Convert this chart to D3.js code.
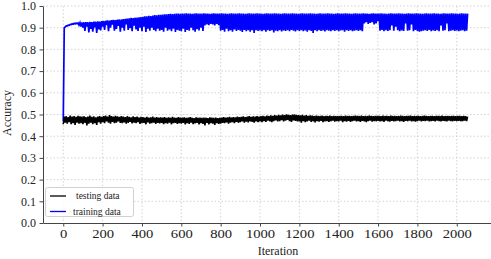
<!DOCTYPE html>
<html><head><meta charset="utf-8">
<script src="https://cdn.jsdelivr.net/npm/d3@7"></script>
<style>body{margin:0;background:#fff}svg{display:block}</style>
</head><body>
<svg id="c" width="491" height="259"></svg>
<script>
// each bucket covers 10 iterations: the noisy curve visits the bucket's low then its high
const bucketSize = 10;
const xTicks = [0,200,400,600,800,1000,1200,1400,1600,1800,2000];
const yTicks = [0.0,0.1,0.2,0.3,0.4,0.5,0.6,0.7,0.8,0.9,1.0];
const seriesNames = ["testing data","training data"];
const seriesColors = ["#000000","#0000ff"];

const trainLow = [
.47,.903,.908,.911,.914,.916,.917,.918,.912,.905,
.9,.885,.905,.878,.895,.882,.91,.876,.892,.888,
.905,.89,.912,.884,.9,.915,.886,.895,.908,.882,
.9,.886,.915,.89,.898,.884,.91,.892,.885,.9,
.884,.905,.88,.895,.886,.9,.89,.884,.895,.886,
.89,.882,.9,.886,.892,.884,.895,.88,.89,.886,
.884,.895,.88,.89,.886,.9,.888,.882,.893,.887,
.9,.885,.91,.915,.912,.918,.915,.91,.918,.912,
.886,.89,.882,.895,.884,.888,.882,.892,.885,.89,
.886,.88,.89,.884,.888,.882,.889,.876,.888,.885,
.887,.884,.889,.882,.888,.885,.889,.878,.886,.884,
.889,.883,.887,.885,.889,.884,.89,.886,.883,.888,
.885,.889,.884,.887,.882,.889,.885,.876,.888,.884,
.889,.885,.887,.883,.889,.886,.884,.888,.885,.889,
.884,.887,.889,.882,.888,.885,.889,.884,.886,.888,
.885,.889,.884,.92,.925,.918,.922,.926,.915,.92,
.93,.886,.89,.884,.888,.885,.889,.91,.886,.905,
.888,.884,.887,.885,.92,.886,.889,.915,.884,.89,
.885,.882,.884,.886,.888,.885,.89,.884,.887,.885,
.889,.884,.91,.886,.888,.92,.884,.886,.888,.885,
.887,.884,.886,.889,.884,.886
];
const trainHigh = [
.90,.908,.912,.915,.918,.92,.921,.922,.923,.924,
.925,.926,.925,.927,.926,.928,.927,.929,.928,.93,
.931,.932,.934,.933,.935,.936,.935,.937,.938,.938,
.94,.941,.942,.943,.945,.944,.946,.947,.948,.949,
.95,.952,.953,.955,.954,.956,.958,.957,.959,.96,
.961,.962,.962,.963,.964,.963,.964,.965,.965,.964,
.965,.965,.966,.965,.965,.964,.965,.966,.965,.965,
.965,.966,.965,.965,.964,.965,.966,.965,.965,.965,
.966,.965,.965,.964,.965,.966,.965,.965,.965,.966,
.965,.965,.964,.965,.966,.965,.965,.965,.966,.965,
.965,.964,.965,.966,.965,.965,.965,.966,.965,.965,
.964,.965,.966,.965,.965,.965,.966,.965,.965,.964,
.965,.966,.965,.965,.965,.966,.965,.965,.964,.965,
.966,.965,.965,.965,.966,.965,.965,.964,.965,.966,
.965,.965,.965,.966,.965,.965,.964,.965,.966,.965,
.965,.965,.966,.965,.965,.964,.965,.966,.965,.965,
.965,.966,.965,.965,.964,.965,.966,.965,.965,.965,
.966,.965,.965,.964,.965,.966,.965,.965,.965,.966,
.965,.965,.964,.965,.966,.965,.965,.965,.966,.965,
.965,.964,.965,.966,.965,.965,.965,.966,.965,.965,
.964,.965,.966,.965,.965,.965
];
const testLow = [
.455,.462,.458,.465,.455,.46,.452,.463,.458,.46,
.455,.462,.45,.458,.463,.455,.46,.452,.465,.458,
.465,.46,.468,.462,.458,.466,.46,.463,.468,.461,
.46,.464,.458,.462,.466,.459,.463,.46,.465,.457,
.46,.462,.455,.464,.458,.46,.463,.457,.461,.459,
.462,.456,.46,.458,.463,.455,.46,.462,.457,.46,
.458,.462,.455,.46,.457,.463,.456,.459,.461,.455,
.46,.457,.45,.462,.455,.46,.458,.452,.46,.457,
.458,.462,.46,.464,.458,.463,.465,.46,.466,.462,
.465,.468,.463,.467,.464,.469,.466,.463,.468,.465,
.468,.465,.47,.466,.472,.468,.465,.47,.473,.468,
.47,.474,.468,.472,.475,.47,.466,.473,.471,.468,
.468,.462,.47,.465,.468,.472,.466,.469,.464,.47,
.467,.471,.465,.468,.47,.466,.469,.472,.467,.47,
.468,.472,.465,.47,.467,.471,.466,.47,.472,.468,
.47,.466,.471,.468,.465,.47,.472,.467,.47,.469,
.471,.468,.47,.466,.472,.469,.467,.471,.468,.47,
.472,.468,.47,.466,.471,.469,.472,.468,.47,.467,
.47,.472,.468,.471,.469,.472,.468,.47,.471,.469,
.472,.47,.468,.471,.47,.468,.472,.47,.469,.471,
.47,.471,.469,.47,.472,.47
];
const testHigh = [
.49,.492,.488,.495,.49,.493,.489,.494,.491,.49,
.492,.488,.49,.495,.489,.491,.487,.49,.493,.489,
.492,.495,.49,.497,.493,.49,.494,.491,.489,.492,
.49,.488,.492,.489,.487,.491,.488,.49,.486,.489,
.488,.486,.489,.485,.487,.49,.486,.488,.485,.487,
.486,.488,.484,.487,.485,.489,.486,.484,.488,.486,
.485,.487,.484,.486,.488,.485,.483,.487,.485,.486,
.484,.486,.485,.483,.487,.485,.484,.486,.483,.485,
.486,.488,.485,.487,.489,.486,.488,.487,.49,.488,
.489,.491,.488,.49,.492,.489,.491,.49,.493,.49,
.492,.494,.491,.495,.493,.496,.494,.497,.495,.498,
.496,.499,.497,.5,.498,.497,.499,.5,.498,.497,
.496,.498,.495,.497,.494,.496,.495,.493,.495,.494,
.493,.495,.492,.494,.493,.495,.492,.494,.493,.492,
.493,.494,.492,.495,.493,.494,.492,.493,.495,.494,
.493,.495,.492,.494,.493,.495,.494,.492,.494,.493,
.494,.492,.495,.493,.494,.492,.495,.493,.494,.492,
.493,.495,.494,.492,.494,.493,.495,.492,.494,.493,
.494,.492,.493,.495,.494,.492,.493,.494,.492,.493,
.494,.493,.495,.492,.493,.494,.492,.493,.494,.492,
.493,.494,.492,.493,.492,.49
];

const svg = d3.select("#c");
const font = "'Liberation Serif','Times New Roman',serif";
const pLeft = 43, pBottom = 223, pTop = 6, pRight = 491;
const x = d3.scaleLinear().domain([-103, 2174]).range([pLeft, pRight]);
const y = d3.scaleLinear().domain([0, 1]).range([pBottom, pTop]);

// grid
const grid = svg.append("g").attr("stroke","#c8c8c8").attr("stroke-width",0.8).attr("stroke-dasharray","1.5,2");
grid.selectAll("line.v").data(xTicks).join("line").attr("class","v")
  .attr("x1",d=>x(d)).attr("x2",d=>x(d)).attr("y1",pTop).attr("y2",pBottom);
grid.selectAll("line.h").data(yTicks.slice(1)).join("line").attr("class","h")
  .attr("x1",pLeft).attr("x2",pRight).attr("y1",d=>y(d)).attr("y2",d=>y(d));

// series: visit each bucket's low then high
function pts(low, high){
  const out = [];
  low.forEach((v,i)=>{
    out.push([i*bucketSize, v]);
    out.push([i*bucketSize + bucketSize/2, high[i]]);
  });
  return out;
}
const line = d3.line().x(d=>x(d[0])).y(d=>y(d[1]));
svg.append("path").datum(pts(trainLow, trainHigh)).attr("fill","none")
  .attr("stroke",seriesColors[1]).attr("stroke-width",1.7).attr("d",line);
svg.append("path").datum(pts(testLow, testHigh)).attr("fill","none")
  .attr("stroke",seriesColors[0]).attr("stroke-width",1.6).attr("d",line);

// axes
const xa = svg.append("g").attr("transform",`translate(0,${pBottom})`)
  .call(d3.axisBottom(x).tickValues(xTicks).tickSize(3.5).tickSizeOuter(0).tickFormat(d3.format("d")));
const ya = svg.append("g").attr("transform",`translate(${pLeft},0)`)
  .call(d3.axisLeft(y).tickValues(yTicks).tickSize(3.5).tickSizeOuter(0).tickFormat(d3.format(".1f")));
[xa,ya].forEach(a=>{
  a.select(".domain").attr("stroke","#444").attr("stroke-width",1);
  a.selectAll(".tick line").attr("stroke","#444");
  a.selectAll("text").attr("font-family",font).attr("font-size",12).attr("fill","#222");
});
xa.selectAll("text").attr("dy","0.71em").attr("y",6).attr("transform","scale(1.22,1)");
ya.selectAll("text").attr("x",-7);

// axis labels
svg.append("text").attr("x",278).attr("y",255).attr("text-anchor","middle")
  .attr("font-family",font).attr("font-size",12).attr("fill","#222").text("Iteration");
svg.append("text").attr("transform","translate(11,113) rotate(-90)").attr("text-anchor","middle")
  .attr("font-family",font).attr("font-size",12).attr("fill","#222").text("Accuracy");

// legend
const lg = svg.append("g");
lg.append("rect").attr("x",45.5).attr("y",187.5).attr("width",88).attr("height",29).attr("rx",2)
  .attr("fill","#fff").attr("fill-opacity",0.85).attr("stroke","#d0d0d0");
seriesNames.forEach((n,i)=>{
  const yy = 196 + i*15.5;
  lg.append("line").attr("x1",50).attr("x2",66).attr("y1",yy).attr("y2",yy)
    .attr("stroke",seriesColors[i]).attr("stroke-width",1.3);
  lg.append("text").attr("x",i===0?76:73).attr("y",yy+3).attr("font-family",font).attr("font-size",9.5)
    .attr("fill","#222").text(n);
});
</script>
</body></html>
